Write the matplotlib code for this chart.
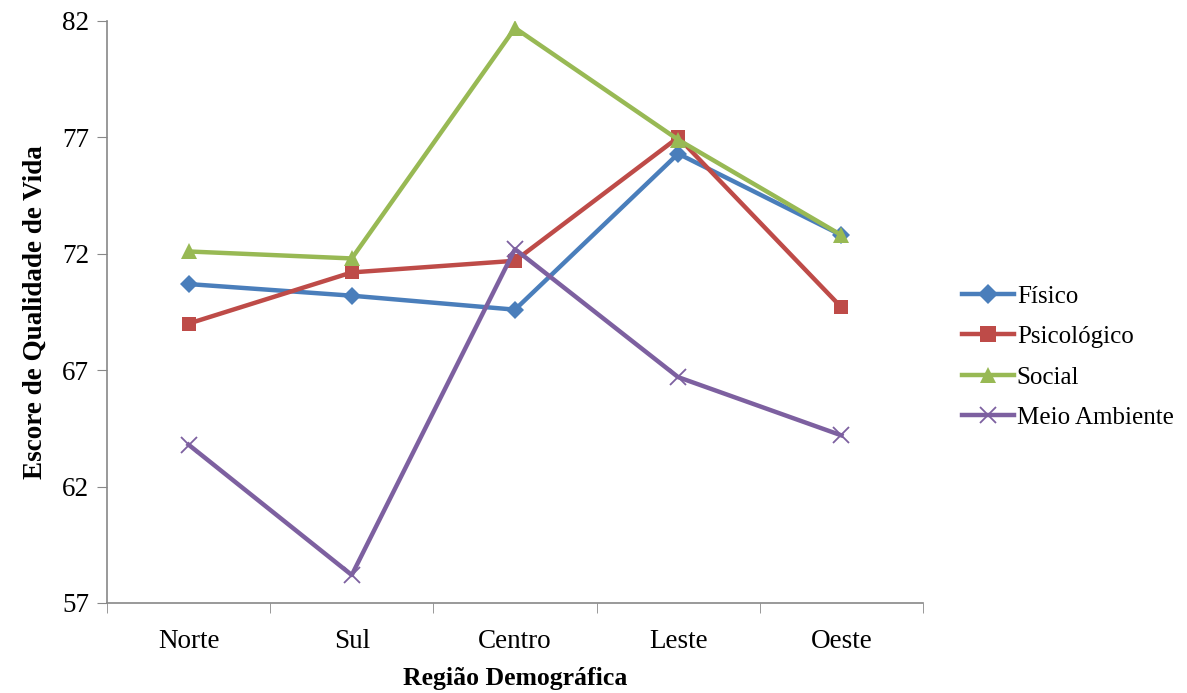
import numpy as np
import matplotlib
matplotlib.use("Agg")
import matplotlib.pyplot as plt

plt.rcParams["font.family"] = ["Liberation Serif", "DejaVu Serif"]

regioes = ["Norte", "Sul", "Centro", "Leste", "Oeste"]
fisico = [70.7, 70.2, 69.6, 76.3, 72.8]
psicologico = [69.0, 71.2, 71.7, 77.0, 69.7]
social = [72.1, 71.8, 81.7, 76.9, 72.8]
meio_ambiente = [63.8, 58.2, 72.2, 66.7, 64.2]

series = [
    ("Físico", fisico, "#4A7EBB", "D", 9),
    ("Psicológico", psicologico, "#BE4B48", "s", 10),
    ("Social", social, "#98B954", "^", 11),
    ("Meio Ambiente", meio_ambiente, "#7D60A0", "x", 11),
]

fig = plt.figure(figsize=(11.87, 6.93), dpi=100)
ax = fig.add_axes([0.0901, 0.1299, 0.6875, 0.8398])

x = np.arange(len(regioes))
for nome, vals, cor, mk, ms in series:
    ax.plot(x, vals, color=cor, linewidth=3.2, marker=mk, markersize=ms,
            markeredgewidth=1.3 if mk == "x" else 0, markeredgecolor=cor,
            label=nome)

ax.set_xlim(-0.5, len(regioes) - 0.5)
ax.set_ylim(57, 82)
ax.set_yticks([57, 62, 67, 72, 77, 82])
ax.set_xticks(x)
ax.set_xticklabels(regioes)
ax.set_xticks(np.arange(-0.5, len(regioes), 1.0), minor=True)
ax.tick_params(axis="x", which="major", length=0, pad=19, labelsize=19.5)
ax.tick_params(axis="x", which="minor", length=7, color="#888888", direction="out")
ax.tick_params(axis="y", length=7, color="#888888", direction="out", labelsize=19.5, pad=6)

for s in ["top", "right"]:
    ax.spines[s].set_visible(False)
for s in ["left", "bottom"]:
    ax.spines[s].set_color("#888888")
    ax.spines[s].set_linewidth(1.2)

ax.set_xlabel("Região Demográfica", fontsize=18.5, fontweight="bold", labelpad=9)
ax.set_ylabel("Escore de Qualidade de Vida", fontsize=19.5, fontweight="bold", labelpad=10)

leg = ax.legend(loc="center left", bbox_to_anchor=(1.02, 0.4226), frameon=False,
                fontsize=18, handlelength=2.1, handletextpad=0.1, labelspacing=0.72,
                markerscale=1.1)

fig.savefig("out.png", dpi=100)
